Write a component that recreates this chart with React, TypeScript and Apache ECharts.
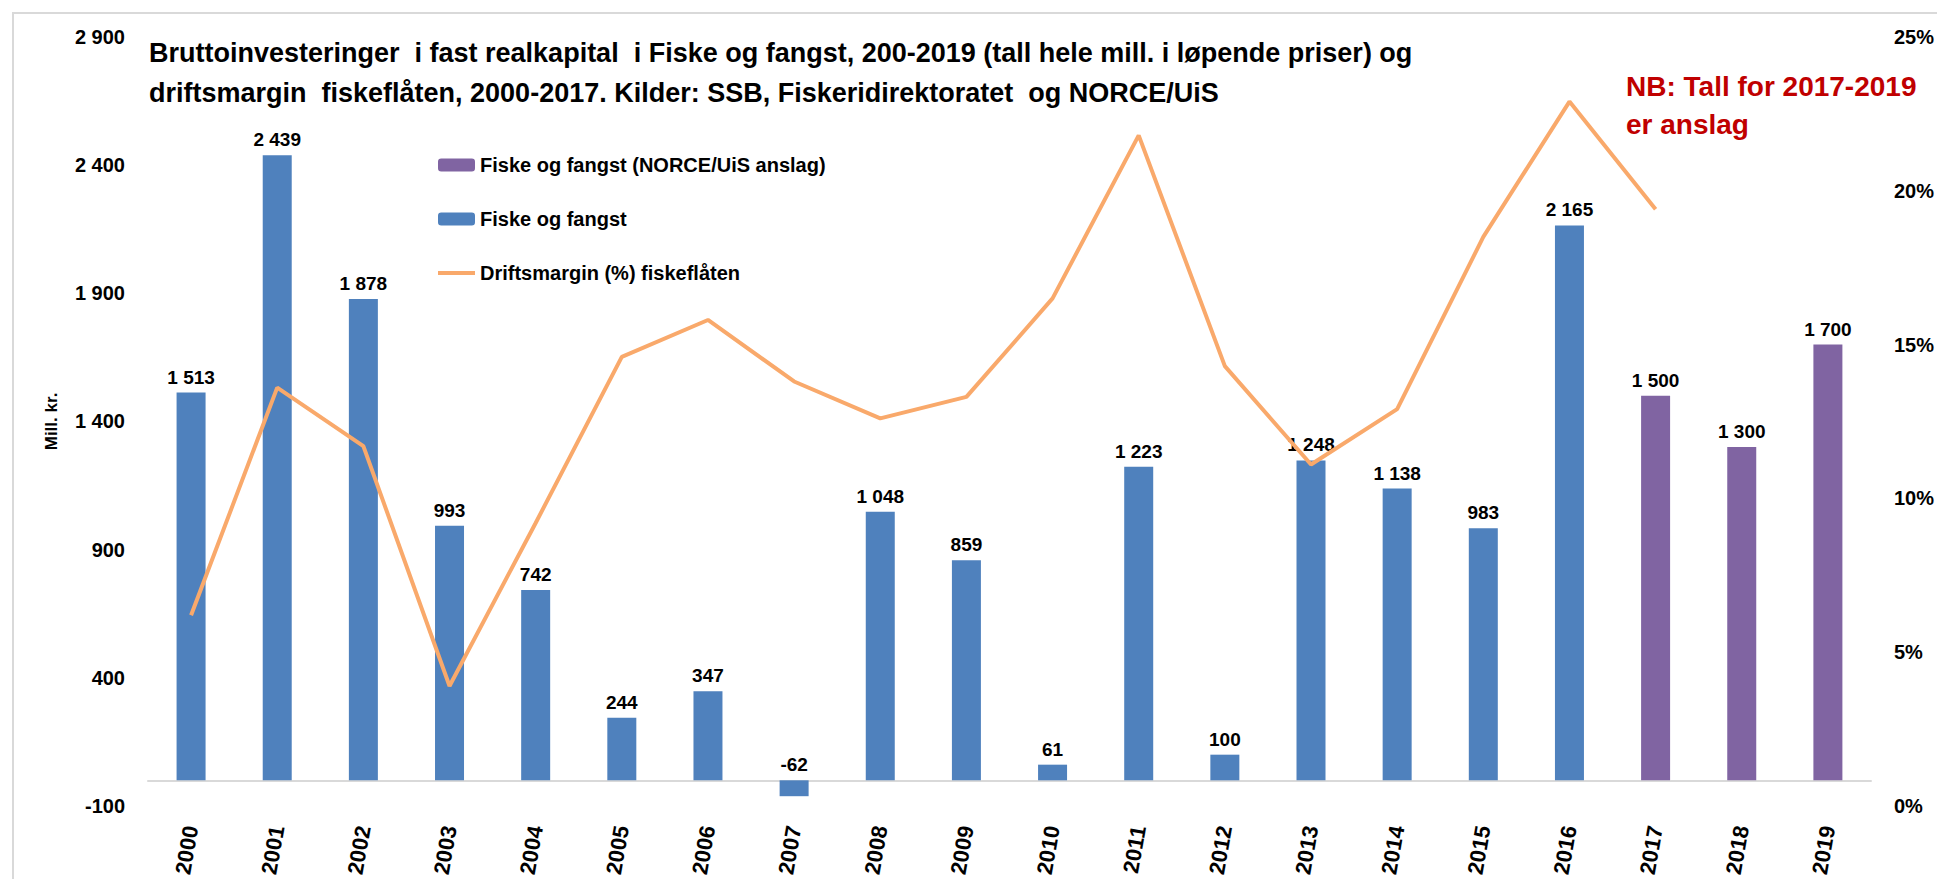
import React, { useEffect, useRef } from "react";
import * as echarts from "echarts";

const years = ["2000","2001","2002","2003","2004","2005","2006","2007","2008","2009","2010","2011","2012","2013","2014","2015","2016","2017","2018","2019"];
const fiskeOgFangst: (number | null)[] = [1513, 2439, 1878, 993, 742, 244, 347, -62, 1048, 859, 61, 1223, 100, 1248, 1138, 983, 2165, null, null, null];
const anslag: (number | null)[] = [null, null, null, null, null, null, null, null, null, null, null, null, null, null, null, null, null, 1500, 1300, 1700];
const driftsmargin: (number | null)[] = [6.2, 13.6, 11.7, 3.9, 9.2, 14.6, 15.8, 13.8, 12.6, 13.3, 16.5, 21.8, 14.3, 11.1, 12.9, 18.5, 22.9, 19.4, null, null];

const titleText = "Bruttoinvesteringer  i fast realkapital  i Fiske og fangst, 200-2019 (tall hele mill. i løpende priser) og\ndriftsmargin  fiskeflåten, 2000-2017. Kilder: SSB, Fiskeridirektoratet  og NORCE/UiS";
const noteText = "NB: Tall for 2017-2019\ner anslag";
const seriesNames = ["Fiske og fangst (NORCE/UiS anslag)", "Fiske og fangst", "Driftsmargin (%) fiskeflåten"];

const FONT = "'Liberation Sans', Arial, sans-serif";
const fmt = (v: number) => {
  const s = Math.abs(v).toString().replace(/\B(?=(\d{3})+(?!\d))/g, " ");
  return (v < 0 ? "-" : "") + s;
};

export default function App() {
  const ref = useRef<HTMLDivElement>(null);
  useEffect(() => {
    if (!ref.current) return;
    const chart = echarts.init(ref.current, null, { renderer: "svg" });
    const labelStyle = {
      show: true,
      position: "top" as const,
      distance: 6,
      fontFamily: FONT,
      fontWeight: "bold" as const,
      fontSize: 19,
      color: "#000",
      formatter: (p: any) => fmt(p.value),
    };
    chart.setOption({
      animation: false,
      backgroundColor: "#fff",
      textStyle: { fontFamily: FONT },
      title: {
        text: titleText,
        left: 144,
        top: 28,
        textStyle: { fontFamily: FONT, fontWeight: "bold", fontSize: 27, lineHeight: 40, color: "#000" },
      },
      graphic: [
        {
          type: "rect",
          shape: { x: 13, y: 13, width: 1940, height: 880 },
          style: { fill: "none", stroke: "#D9D9D9", lineWidth: 2 },
          silent: true,
        },
        {
          type: "text",
          x: 1626,
          y: 67,
          style: {
            text: noteText,
            fontFamily: FONT,
            fontWeight: "bold",
            fontSize: 28,
            lineHeight: 38,
            fill: "#C00000",
          },
        },
      ],
      legend: {
        orient: "vertical",
        left: 433,
        top: 150,
        itemWidth: 37,
        itemHeight: 13,
        itemGap: 34,
        data: [
          { name: seriesNames[0] },
          { name: seriesNames[1] },
          { name: seriesNames[2], icon: "path://M0 0H37V4H0Z" },
        ],
        textStyle: { fontFamily: FONT, fontWeight: "bold", fontSize: 20, color: "#000" },
      },
      grid: { left: 148, right: 57, top: 37, bottom: 59 },
      xAxis: {
        type: "category",
        data: years,
        axisLine: { onZero: true, lineStyle: { color: "#D9D9D9", width: 2 } },
        axisTick: { show: false },
        axisLabel: {
          rotate: 80,
          margin: 20,
          interval: 0,
          fontFamily: FONT,
          fontWeight: "bold",
          fontSize: 22,
          color: "#000",
        },
      },
      yAxis: [
        {
          type: "value",
          min: -100,
          max: 2900,
          interval: 500,
          name: "Mill. kr.",
          nameLocation: "middle",
          nameGap: 88,
          nameTextStyle: { fontFamily: FONT, fontWeight: "bold", fontSize: 17, color: "#000" },
          axisLine: { show: false },
          axisTick: { show: false },
          splitLine: { show: false },
          axisLabel: {
            margin: 23,
            fontFamily: FONT,
            fontWeight: "bold",
            fontSize: 20,
            color: "#000",
            formatter: (v: number) => fmt(v),
          },
        },
        {
          type: "value",
          min: 0,
          max: 25,
          interval: 5,
          position: "right",
          axisLine: { show: false },
          axisTick: { show: false },
          splitLine: { show: false },
          axisLabel: {
            margin: 23,
            fontFamily: FONT,
            fontWeight: "bold",
            fontSize: 20,
            color: "#000",
            formatter: "{value}%",
          },
        },
      ],
      series: [
        {
          name: seriesNames[0],
          type: "bar",
          stack: "inv",
          barWidth: 29,
          data: anslag,
          itemStyle: { color: "#8064A2" },
          label: labelStyle,
        },
        {
          name: seriesNames[1],
          type: "bar",
          stack: "inv",
          barWidth: 29,
          data: fiskeOgFangst,
          itemStyle: { color: "#4F81BD" },
          label: labelStyle,
        },
        {
          name: seriesNames[2],
          type: "line",
          yAxisIndex: 1,
          data: driftsmargin,
          symbol: "none",
          showSymbol: false,
          lineStyle: { color: "#F9A96B", width: 4 },
          itemStyle: { color: "#F9A96B" },
          z: 5,
        },
      ],
    });
    return () => chart.dispose();
  }, []);
  return <div ref={ref} style={{ position: "fixed", left: 0, top: 0, width: 1937, height: 879 }} />;
}
